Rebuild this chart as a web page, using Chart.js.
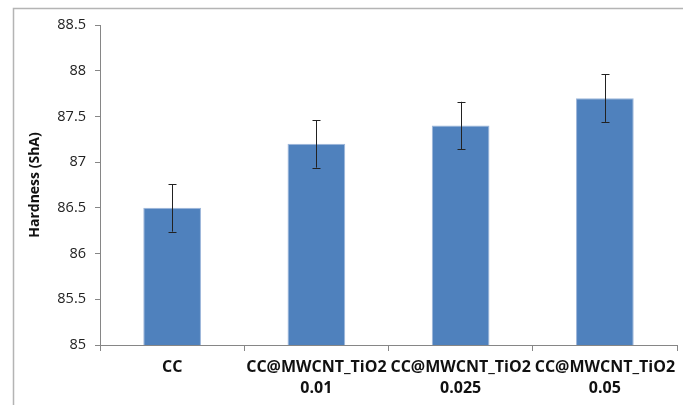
<!DOCTYPE html>
<html>
<head>
<meta charset="utf-8">
<script src="https://cdn.jsdelivr.net/npm/chart.js@4/dist/chart.umd.min.js"></script>
<style>
html,body{margin:0;padding:0;background:#fff;}
#wrap{position:relative;width:683px;height:405px;}
</style>
</head>
<body>
<div id="wrap"><canvas id="c" width="683" height="405"></canvas></div>
<script>
const categories = [["CC"], ["CC@MWCNT_TiO2", "0.01"], ["CC@MWCNT_TiO2", "0.025"], ["CC@MWCNT_TiO2", "0.05"]];
const hardness = [86.5, 87.2, 87.4, 87.7];
const hardnessError = [0.26, 0.26, 0.26, 0.26];
const yTicks = [85, 85.5, 86, 86.5, 87, 87.5, 88, 88.5];

const FONT = "'Open Sans', 'Liberation Sans', sans-serif";

const framePlugin = {
  id: 'frame',
  beforeDraw(chart) {
    const ctx = chart.ctx;
    ctx.save();
    ctx.strokeStyle = '#b4b4b4';
    ctx.lineWidth = 1.5;
    ctx.beginPath();
    ctx.moveTo(13.5, 405);
    ctx.lineTo(13.5, 8.5);
    ctx.lineTo(683, 8.5);
    ctx.stroke();
    ctx.restore();
  }
};

const errorBarPlugin = {
  id: 'errorBars',
  afterDatasetsDraw(chart) {
    const ctx = chart.ctx;
    const meta = chart.getDatasetMeta(0);
    const y = chart.scales.y;
    ctx.save();
    ctx.strokeStyle = '#222';
    ctx.lineWidth = 1;
    meta.data.forEach((bar, i) => {
      const x = Math.round(bar.x) + 0.5;
      const top = y.getPixelForValue(hardness[i] + hardnessError[i]);
      const bot = y.getPixelForValue(hardness[i] - hardnessError[i]);
      ctx.beginPath();
      ctx.moveTo(x, top); ctx.lineTo(x, bot);
      ctx.moveTo(x - 4, Math.round(top) + 0.5); ctx.lineTo(x + 4, Math.round(top) + 0.5);
      ctx.moveTo(x - 4, Math.round(bot) + 0.5); ctx.lineTo(x + 4, Math.round(bot) + 0.5);
      ctx.stroke();
    });
    ctx.restore();
  }
};

new Chart(document.getElementById('c'), {
  type: 'bar',
  data: {
    labels: categories,
    datasets: [{
      data: hardness,
      backgroundColor: '#4f81bd',
      borderColor: '#9db6da',
      borderWidth: 1,
      categoryPercentage: 0.8,
      barPercentage: 0.5
    }]
  },
  options: {
    responsive: false,
    animation: false,
    layout: { padding: { top: 25, right: 6, left: 27, bottom: 0 } },
    plugins: { legend: { display: false }, tooltip: { enabled: false } },
    scales: {
      y: {
        min: 85, max: 88.5,
        afterBuildTicks(scale) { scale.ticks = yTicks.map(v => ({ value: v })); },
        afterFit(scale) { scale.width = 73; },
        border: { display: true, color: '#868686', width: 1 },
        grid: { drawOnChartArea: false, drawTicks: true, tickLength: 5, color: '#868686' },
        ticks: { color: '#222', font: { family: FONT, size: 14.5 }, padding: 9, callback: v => String(v) },
        title: { display: true, text: 'Hardness (ShA)', color: '#111', font: { family: FONT, size: 14, weight: 'bold' }, padding: { top: 0, bottom: 0 } }
      },
      x: {
        afterFit(scale) { scale.height = 60; },
        border: { display: true, color: '#868686', width: 1 },
        grid: { drawOnChartArea: false, drawTicks: true, tickLength: 6, color: '#868686', offset: true },
        ticks: { color: '#111', autoSkip: false, maxRotation: 0, minRotation: 0, font: { family: FONT, size: 16, weight: 'bold', lineHeight: 1.3 }, padding: 6 }
      }
    }
  },
  plugins: [framePlugin, errorBarPlugin]
});
</script>
</body>
</html>
